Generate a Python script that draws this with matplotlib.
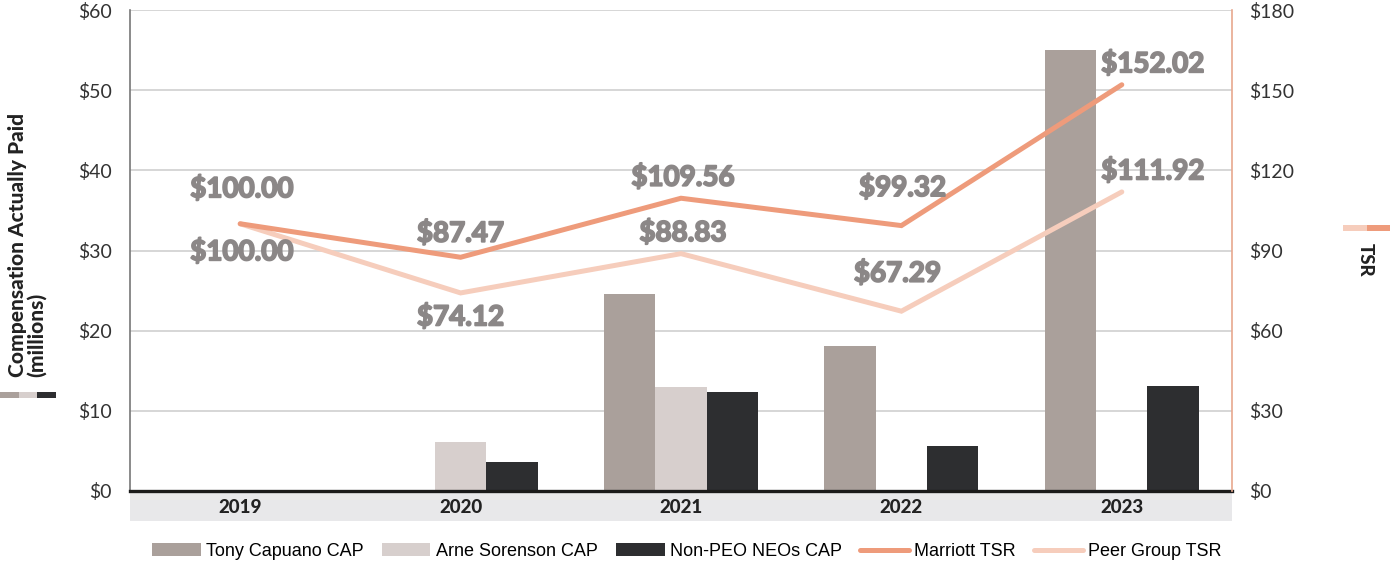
import matplotlib
matplotlib.use("Agg")
import matplotlib.pyplot as plt
import matplotlib.patheffects as pe
from matplotlib.patches import Rectangle
import numpy as np

years = ["2019", "2020", "2021", "2022", "2023"]
tony_cap = [0, 0, 24.6, 18.1, 55.0]
arne_cap = [0, 6.1, 13.0, 0, 0]
neo_cap = [0, 3.6, 12.35, 5.6, 13.1]
marriott_tsr = [100.00, 87.47, 109.56, 99.32, 152.02]
peer_tsr = [100.00, 74.12, 88.83, 67.29, 111.92]

c_tony = "#aaa09b"
c_arne = "#d7cfcd"
c_neo = "#2d2e30"
c_mar = "#ee9b7b"
c_peer = "#f6cdbc"
c_lbl = "#8b8787"

plt.rcParams["font.family"] = ["Lato", "DejaVu Sans"]

W, H = 1390, 566
fig = plt.figure(figsize=(W / 100, H / 100), dpi=100)
ax = fig.add_axes([130 / W, (H - 491) / H, 1102 / W, 481 / H])

x = np.arange(len(years))
bw = 0.233
ax.bar(x - bw, tony_cap, bw, color=c_tony, label="Tony Capuano CAP", zorder=2)
ax.bar(x, arne_cap, bw, color=c_arne, label="Arne Sorenson CAP", zorder=2)
ax.bar(x + bw, neo_cap, bw, color=c_neo, label="Non-PEO NEOs CAP", zorder=2)

ax.set_xlim(-0.5, len(years) - 0.5)
ax.set_ylim(0, 60)
ax.set_yticks(np.arange(0, 61, 10))
ax.set_yticklabels([f"${v}" for v in range(0, 61, 10)])
ax.grid(axis="y", color="#cfcfcf", linewidth=1.2, zorder=0)
ax.set_axisbelow(True)
ax.tick_params(axis="y", length=0, pad=13, labelsize=14, labelcolor="#333333")
ax.set_xticks(x)
ax.set_xticklabels(years, fontweight="black")
ax.tick_params(axis="x", length=0, pad=6, labelsize=13.5, labelcolor="#222222")
ax.spines["top"].set_visible(False)
ax.spines["right"].set_visible(False)
ax.spines["left"].set_color("#777777")
ax.spines["left"].set_linewidth(1.2)
ax.spines["bottom"].set_color("#1a1a1a")
ax.spines["bottom"].set_linewidth(2.4)
ax.spines["bottom"].set_zorder(5)

# grey band behind category labels
ax.add_patch(Rectangle((0, -30 / 481), 1, 28 / 481, transform=ax.transAxes,
                       facecolor="#e8e8ea", edgecolor="none", clip_on=False, zorder=-1))

ax2 = ax.twinx()
ax2.set_ylim(0, 180)
ax2.set_yticks(np.arange(0, 181, 30))
ax2.set_yticklabels([f"${v}" for v in range(0, 181, 30)])
ax2.tick_params(axis="y", length=0, pad=12, labelsize=14, labelcolor="#333333")
for s in ["top", "left", "bottom"]:
    ax2.spines[s].set_visible(False)
ax2.spines["right"].set_color("#e8a88e")
ax2.spines["right"].set_linewidth(1.2)

ax2.plot(x, peer_tsr, color=c_peer, linewidth=3.6, label="Peer Group TSR",
         solid_capstyle="round", solid_joinstyle="miter", zorder=3)
ax2.plot(x, marriott_tsr, color=c_mar, linewidth=3.6, label="Marriott TSR",
         solid_capstyle="round", solid_joinstyle="miter", zorder=4)

# heavier value labels
thick = [pe.withStroke(linewidth=1.3, foreground=c_lbl)]
mar_off = [(2, 35), (0, 24), (2, 21), (1, 38), (31, 21)]
peer_off = [(2, -28), (0, -24), (2, 21), (-4, 38), (31, 21)]
for xi, v, off in zip(x, marriott_tsr, mar_off):
    ax2.annotate(f"${v:.2f}", (xi, v), xytext=off, textcoords="offset pixels",
                 ha="center", va="center", fontsize=20, fontweight="bold", color=c_lbl,
                 zorder=6, path_effects=thick)
for xi, v, off in zip(x, peer_tsr, peer_off):
    ax2.annotate(f"${v:.2f}", (xi, v), xytext=off, textcoords="offset pixels",
                 ha="center", va="center", fontsize=20, fontweight="bold", color=c_lbl,
                 zorder=6, path_effects=thick)

# axis titles
fig.text(27 / W, 1 - 245 / H, "Compensation Actually Paid\n(millions)", rotation=90,
         ha="center", va="center", multialignment="left", fontsize=15,
         fontweight="black", color="#222222", linespacing=1.0)
for i, c in enumerate([c_tony, c_arne, c_neo]):
    fig.add_artist(Rectangle(((i * 18.5) / W, 1 - 398 / H), 18.5 / W, 6 / H,
                             transform=fig.transFigure, facecolor=c, edgecolor="none"))
fig.text(1365 / W, 1 - 260 / H, "TSR", rotation=270, ha="center", va="center",
         fontsize=13.5, fontweight="black", color="#222222")
for i, c in enumerate([c_peer, c_mar]):
    fig.add_artist(Rectangle((1343 / W + i * 23.5 / W, 1 - 231 / H), 23.5 / W, 6 / H,
                             transform=fig.transFigure, facecolor=c, edgecolor="none"))

h1, l1 = ax.get_legend_handles_labels()
h2, l2 = ax2.get_legend_handles_labels()
handles = h1 + [h2[1], h2[0]]
labels = l1 + [l2[1], l2[0]]
fig.legend(handles, labels, loc="lower center", bbox_to_anchor=(0.494, -0.018), ncol=5,
           frameon=False, prop={"family": ["Liberation Sans"], "size": 13},
           handlelength=2.7, handleheight=0.7, handletextpad=0.3, columnspacing=1.0)

fig.savefig("out.png", dpi=100)
